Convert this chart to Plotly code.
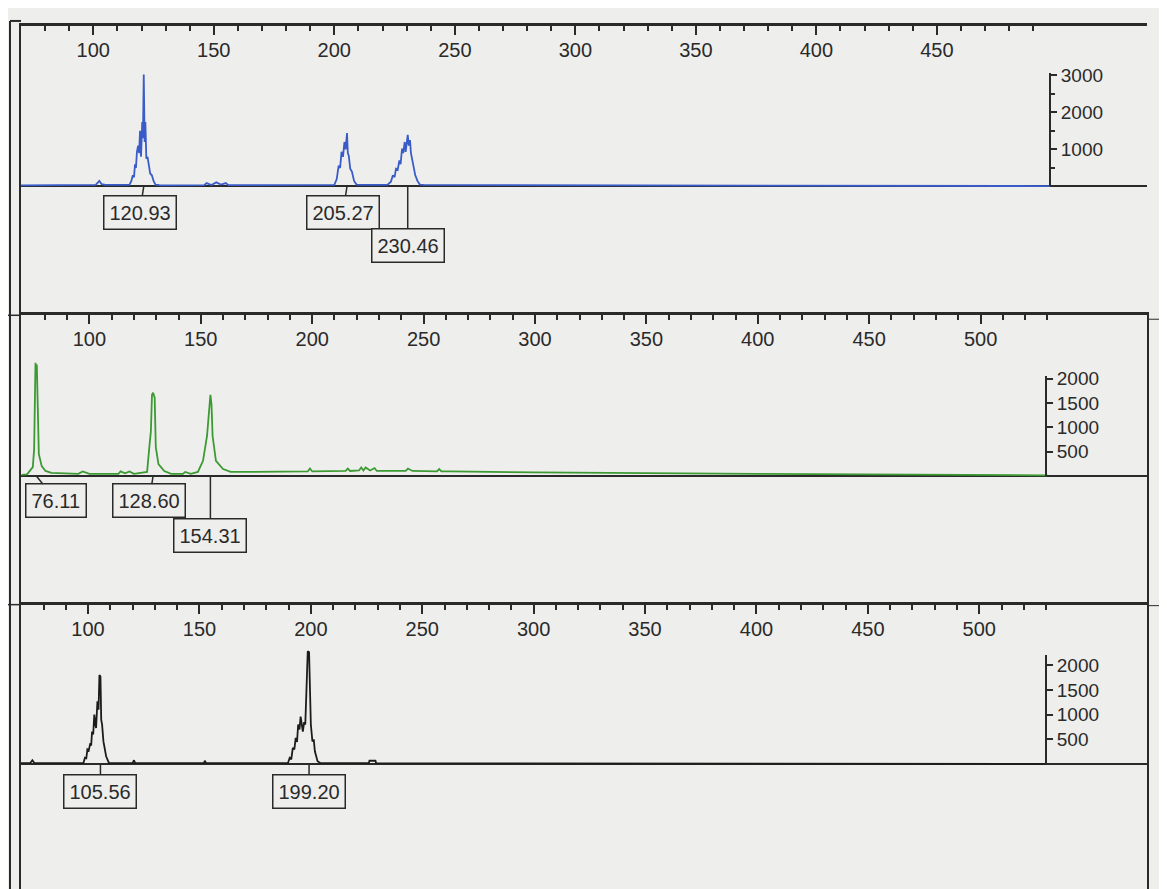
import plotly.graph_objects as go

W, H = 1167, 889
OFF = 8  # the page body margin shifts the figure by this many pixels

# ---------------- data ----------------
# Panel 1 (blue)
blue_x = [70, 90, 101, 102.5, 103.5, 105, 115, 115.8, 116.4, 116.9, 117.3, 117.7, 118.1, 118.6,
          119, 119.4, 119.8, 120.3, 120.6, 120.93, 121.3, 121.6, 122, 122.5, 123, 123.6, 124.3,
          125, 125.8, 128, 146, 147, 149, 151, 153, 155, 156, 180,
          200, 201, 201.8, 202.4, 203, 203.6, 204.2, 204.7, 205.27, 205.6, 206, 206.6, 207.3,
          208.2, 209.2, 211,
          222, 223.5, 224.3, 225, 225.6, 226.3, 227, 227.5, 228.1, 228.6, 229.2, 229.6, 230.1,
          230.46, 230.9, 231.4, 231.8, 232.4, 233, 233.6, 234.5, 235.5, 237, 300, 400, 497]
blue_y = [30, 35, 40, 150, 60, 40, 40, 150, 300, 250, 600, 500, 935, 1100,
          900, 1500, 800, 1740, 1300, 3020, 1200, 1740, 750, 800, 560, 350, 300,
          150, 50, 30, 35, 90, 40, 110, 50, 90, 35, 30,
          40, 200, 560, 500, 935, 800, 1200, 1000, 1440, 900, 830, 480, 400,
          150, 50, 40,
          40, 130, 300, 250, 480, 450, 700, 600, 1020, 900, 1200, 935, 1250,
          1390, 1100, 1250, 900, 670, 500, 300, 150, 50, 40, 30, 20, 10]

# Panel 2 (green)
green_x = [69.5, 72, 74.6, 75.2, 75.8, 76.1, 76.4, 76.8, 77.3, 78.6, 80.3, 82.9, 95, 97, 100,
           113, 114, 116, 118, 120, 125.9, 126.9, 127.6, 128.1, 128.6, 129.3, 129.8, 131, 133.6,
           136.7, 142, 143, 145.5, 148.7, 151, 152.8, 153.6, 154.31, 154.8, 155.3, 156.8, 160,
           163.4, 198, 199, 200, 215, 216, 217, 221, 222, 223, 224, 226, 228, 229, 242, 243, 245,
           256, 257, 258, 262, 300, 400, 530]
green_y = [20, 30, 180, 550, 2330, 2100, 2290, 1200, 450, 200, 100, 60, 40, 90, 40,
           40, 90, 50, 90, 40, 80, 590, 920, 1670, 1710, 1610, 590, 240, 100,
           40, 40, 80, 40, 80, 310, 820, 1400, 1670, 1470, 820, 310, 140,
           80, 90, 150, 90, 100, 150, 100, 110, 170, 110, 170, 110, 160, 100, 100, 150, 100,
           90, 140, 90, 90, 70, 40, 10]

# Panel 3 (black)
black_x = [69.9, 74, 75, 76, 97.9, 98.6, 99.2, 99.7, 100.3, 100.9, 101.4, 101.8, 102.3, 102.8,
           103.3, 103.6, 104.2, 104.7, 105.1, 105.56, 105.9, 106.3, 106.9, 107.5, 108.1, 109.4,
           120, 120.6, 121.2, 152, 152.4, 153,
           189.7, 190.5, 191.2, 191.9, 192.6, 193.2, 193.8, 194.3, 194.9, 195.4, 195.9, 196.4,
           197, 197.5, 198, 198.6, 199.2, 199.6, 200, 200.7, 201.3, 201.8, 203, 204.4,
           226, 226.3, 229, 229.3, 300, 400, 530]
black_y = [20, 20, 80, 20, 20, 130, 120, 300, 280, 400, 380, 660, 600, 1000,
           800, 730, 1270, 1100, 1800, 1770, 900, 800, 460, 300, 160, 20,
           20, 80, 20, 20, 70, 20,
           20, 130, 100, 330, 300, 530, 450, 800, 700, 960, 750, 660,
           850, 800, 1460, 2280, 2260, 1000, 800, 460, 500, 260, 60, 20,
           20, 70, 70, 20, 15, 10, 5]

# peak size labels
p1_labels = [120.93, 205.27, 230.46]
p2_labels = [76.11, 128.60, 154.31]
p3_labels = [105.56, 199.20]

# tick labels
p1_xticks = [100, 150, 200, 250, 300, 350, 400, 450]
p23_xticks = [100, 150, 200, 250, 300, 350, 400, 450, 500]
p1_yticks = [0, 1000, 2000, 3000]
p23_yticks = [0, 500, 1000, 1500, 2000]

# ---------------- layout geometry (pixels) ----------------
def fx(p):
    return (p - OFF) / W

def fy(p):
    return 1 - (p - OFF) / H

BG = "#eeeeec"
INK = "#2a2a2a"
FONT = "Liberation Sans"

panels = [
    dict(top=18, bot=310, base=180, k=37.4, xr=[70.0, 537.2], ypos=1050, vtop=3050,
         color="#3a5cc8", x=blue_x, y=blue_y, labels=p1_labels, xt=p1_xticks,
         xmin_end=490, yt=p1_yticks, ymin=[500, 1500, 2500], mirror=False,
         offs=[(-4, 26), (-4, 26), (0, 59)]),
    dict(top=310, bot=602, base=472, k=49.0, xr=[69.3, 574.7], ypos=1046, vtop=2050,
         color="#3b9a32", x=green_x, y=green_y, labels=p2_labels, xt=p23_xticks,
         xmin_end=530, yt=p23_yticks, ymin=[], mirror=True,
         offs=[(20, 25), (-4, 25), (0, 60)]),
    dict(top=602, bot=897, base=763, k=50.0, xr=[69.9, 575.3], ypos=1046, vtop=2200,
         color="#1c1c1c", x=black_x, y=black_y, labels=p3_labels, xt=p23_xticks,
         xmin_end=530, yt=p23_yticks, ymin=[], mirror=True,
         offs=[(0, 27), (0, 27)]),
]

fig = go.Figure()
layout = dict(width=W, height=H, margin=dict(l=0, r=0, t=0, b=0), autosize=False,
              paper_bgcolor=BG, plot_bgcolor="rgba(0,0,0,0)", showlegend=False,
              font=dict(family=FONT, size=20, color=INK))
annotations = []

for i, p in enumerate(panels):
    n = i + 1
    xa = "x" if n == 1 else f"x{n}"
    ya = "y" if n == 1 else f"y{n}"
    yv = f"y{n + 3}"
    r_bot = -(p["bot"] - p["base"]) / p["k"] * 1000
    r_top = (p["base"] - p["top"]) / p["k"] * 1000

    fig.add_trace(go.Scatter(x=[None], y=[None], xaxis=xa, yaxis=yv, mode="lines",
                             hoverinfo="skip"))
    fig.add_trace(go.Scatter(x=p["x"], y=p["y"], xaxis=xa, yaxis=ya, mode="lines",
                             line=dict(color=p["color"], width=1.8), hoverinfo="skip"))

    minor_x = [v for v in range(80, p["xmin_end"] + 1, 10) if v % 50 != 0]
    layout[f"xaxis{'' if n == 1 else n}"] = dict(
        domain=[fx(21), min(1.0, fx(1147))], anchor=ya, side="top", range=p["xr"],
        showline=True, linewidth=3, linecolor=INK, showgrid=False, zeroline=False,
        tickmode="array", tickvals=p["xt"], ticks="inside", ticklen=9, tickwidth=2,
        tickcolor=INK, ticklabelposition="inside", ticklabelstandoff=9,
        tickfont=dict(size=20, color=INK),
        minor=dict(tickmode="array", tickvals=minor_x, ticks="inside", ticklen=5,
                   tickwidth=2, tickcolor=INK),
        fixedrange=True)
    layout[f"yaxis{'' if n == 1 else n}"] = dict(
        domain=[max(0.0, fy(p["bot"])), fy(p["top"])], anchor=xa, range=[r_bot, r_top],
        showline=True, linewidth=2, linecolor=INK, mirror=p["mirror"],
        showgrid=False, showticklabels=False, ticks="",
        zeroline=True, zerolinecolor=INK, zerolinewidth=2, fixedrange=True)
    vis_top_px = p["base"] - p["vtop"] / 1000 * p["k"]
    layout[f"yaxis{n + 3}"] = dict(
        domain=[fy(p["base"]), fy(vis_top_px)], anchor="free", position=fx(p["ypos"]),
        side="right", range=[0, p["vtop"]], showline=True, linewidth=2, linecolor=INK,
        showgrid=False, zeroline=False, tickmode="array", tickvals=p["yt"],
        ticktext=["" if v == 0 else str(v) for v in p["yt"]],
        ticks="outside", ticklen=6, tickwidth=2, tickcolor=INK,
        tickfont=dict(size=19, color=INK),
        minor=dict(tickmode="array", tickvals=p["ymin"], ticks="outside", ticklen=4,
                   tickwidth=2, tickcolor=INK),
        fixedrange=True)

    for lab, (ax, ay) in zip(p["labels"], p["offs"]):
        annotations.append(dict(
            x=lab, y=0, xref=xa, yref=ya, text=f"{lab:.2f}", showarrow=True,
            arrowhead=0, arrowwidth=1.5, arrowcolor=INK, ax=ax, ay=ay, standoff=0,
            startstandoff=0, bordercolor=INK, borderwidth=1.5, borderpad=5,
            bgcolor=BG, font=dict(size=20, color=INK)))

layout["annotations"] = annotations
shapes = [
    dict(type="line", xref="paper", yref="paper", x0=fx(10), x1=fx(10), y0=fy(13), y1=0,
         line=dict(color=INK, width=2)),
    dict(type="line", xref="paper", yref="paper", x0=fx(10), x1=fx(21), y0=fy(13), y1=fy(13),
         line=dict(color=INK, width=2)),
    dict(type="line", xref="paper", yref="paper", x0=0, x1=fx(21), y0=fy(310), y1=fy(310),
         line=dict(color=INK, width=1.5)),
    dict(type="line", xref="paper", yref="paper", x0=0, x1=fx(21), y0=fy(602), y1=fy(602),
         line=dict(color=INK, width=1.5)),
    dict(type="line", xref="paper", yref="paper", x0=fx(1147), x1=1, y0=fy(314), y1=fy(314),
         line=dict(color=INK, width=1)),
    dict(type="line", xref="paper", yref="paper", x0=fx(1147), x1=1, y0=fy(603), y1=fy(603),
         line=dict(color=INK, width=1)),
]
layout["shapes"] = shapes
fig.update_layout(**layout)
fig.write_html("out.html")
